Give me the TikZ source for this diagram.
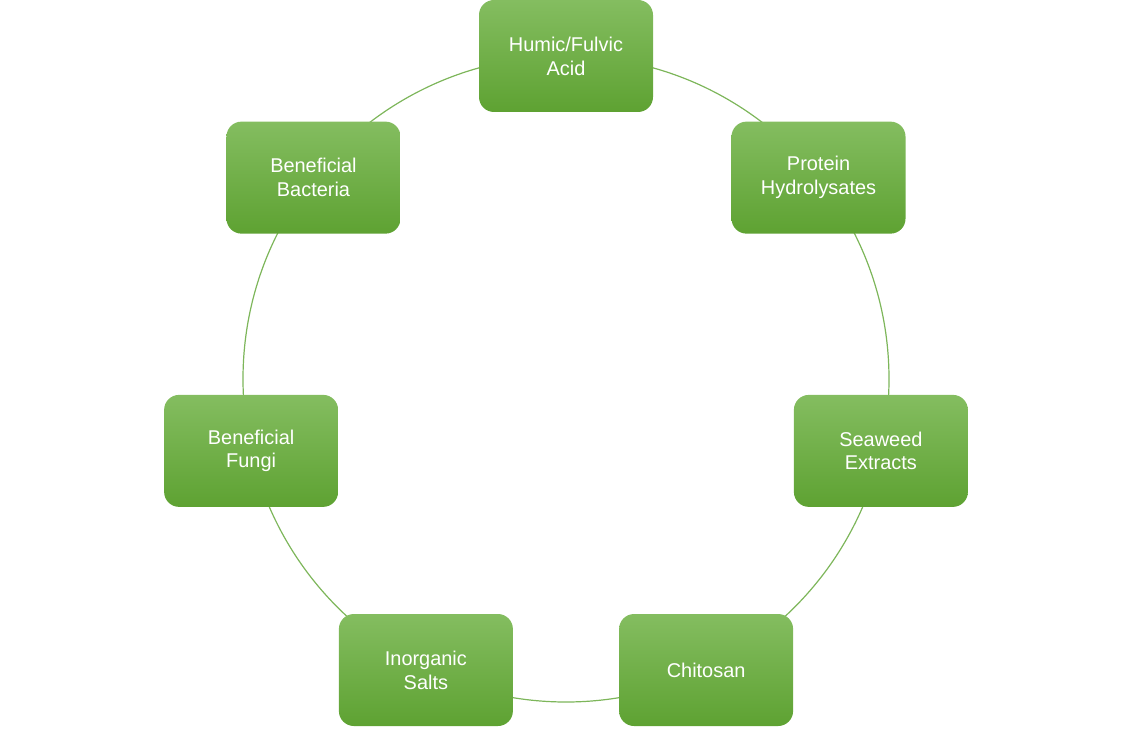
\documentclass[tikz,border=0pt]{standalone}
\usepackage{fontspec}
\setmainfont{Liberation Sans}
\usetikzlibrary{calc}
\definecolor{LeafTop}{HTML}{84BD60}
\definecolor{LeafBottom}{HTML}{5EA232}
\definecolor{RingGreen}{HTML}{7DB65A}
\tikzset{
    Stage/.style={rectangle, rounded corners=15bp, minimum width=174bp, minimum height=112bp,
        top color=LeafTop, bottom color=LeafBottom, draw=none, text=white, align=center,
        font=\fontsize{20}{24}\selectfont},
    Ring/.style={draw=RingGreen, line width=1.2bp}
}
\begin{document}
\begin{tikzpicture}[x=1bp,y=-1bp]
    \useasboundingbox (0,0) rectangle (1132,729);
    \coordinate (Center) at (566,379);
    \draw[Ring] (Center) circle[radius=323];
    % stages round the ring
    \node[Stage] (Humic) at ($(Center)+(0,-323)$) {Humic/Fulvic\\Acid};
    \foreach \Name/\Angle/\Label in {Protein/38.57/{Protein\\Hydrolysates},
        Seaweed/-12.86/{Seaweed\\Extracts}, Chitosan/-64.29/{Chitosan},
        Salts/-115.71/{Inorganic\\Salts}, Fungi/-167.14/{Beneficial\\Fungi},
        Bacteria/141.43/{Beneficial\\Bacteria}}
        \node[Stage] (\Name) at ($(Center)+({323*cos(\Angle)},{-323*sin(\Angle)})$) {\Label};
\end{tikzpicture}
\end{document}
